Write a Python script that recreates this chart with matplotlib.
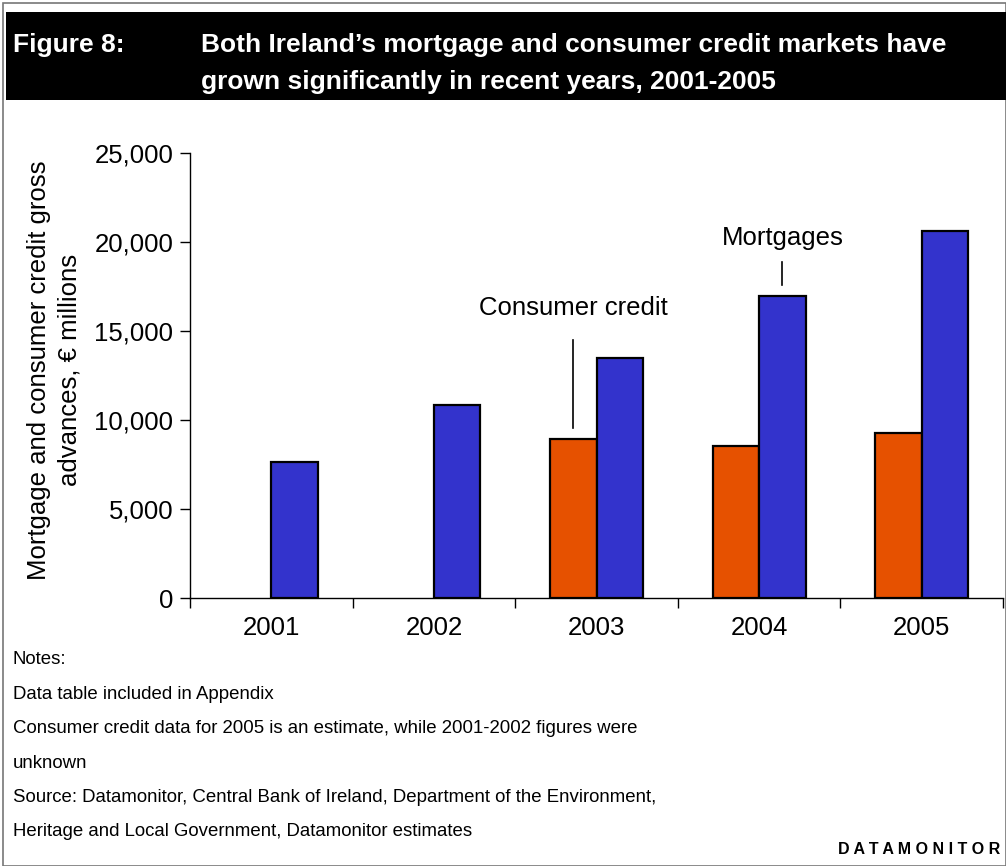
import matplotlib.pyplot as plt
import numpy as np
from matplotlib.ticker import FuncFormatter, FixedLocator

plt.rcParams['font.family'] = ['Liberation Sans', 'DejaVu Sans']

years = ["2001", "2002", "2003", "2004", "2005"]
consumer_credit = [np.nan, np.nan, 8950, 8530, 9280]
mortgages = [7650, 10850, 13500, 16950, 20600]

orange = "#E65100"
blue = "#3333CC"

fig = plt.figure(figsize=(10.06, 8.66), dpi=100)

# outer frame and black header band
fig.add_artist(plt.Rectangle((0.003, 0.0), 0.997, 0.996, transform=fig.transFigure,
                             fill=False, edgecolor="#777777", linewidth=1.2))
fig.add_artist(plt.Rectangle((0.006, 1 - 100 / 866), 0.994, 88 / 866,
                             transform=fig.transFigure, facecolor="black",
                             edgecolor="none"))
fig.text(13 / 1006, 1 - 45 / 866, "Figure 8:", color="white", fontsize=19,
         fontweight="bold", va="center", ha="left")
fig.text(201 / 1006, 1 - 45 / 866,
         "Both Ireland\u2019s mortgage and consumer credit markets have",
         color="white", fontsize=19, fontweight="bold", va="center", ha="left")
fig.text(201 / 1006, 1 - 82 / 866,
         "grown significantly in recent years, 2001-2005",
         color="white", fontsize=19, fontweight="bold", va="center", ha="left")

ax = fig.add_axes([190 / 1006, 1 - 598 / 866, 813 / 1006, 445 / 866])
x = np.arange(len(years))
w = 0.286
ax.bar(x - w / 2, consumer_credit, width=w, color=orange, edgecolor="black",
       linewidth=1.6)
ax.bar(x + w / 2, mortgages, width=w, color=blue, edgecolor="black",
       linewidth=1.6)

ax.set_xlim(-0.5, 4.5)
ax.set_ylim(0, 25000)
ax.set_yticks(np.arange(0, 25001, 5000))
ax.yaxis.set_major_formatter(FuncFormatter(lambda v, p: f"{v:,.0f}"))
ax.set_xticks(x)
ax.set_xticklabels(years)
ax.xaxis.set_minor_locator(FixedLocator(np.arange(-0.5, 4.6, 1.0)))
ax.tick_params(axis="x", which="major", length=0, labelsize=18.5, pad=13)
ax.tick_params(axis="x", which="minor", length=7, width=1, direction="out")
ax.tick_params(axis="y", length=7, width=1, direction="out", labelsize=18.5, pad=5)
for s in ["top", "right"]:
    ax.spines[s].set_visible(False)
for s in ["left", "bottom"]:
    ax.spines[s].set_linewidth(1.0)

fig.text(54 / 1006, 1 - 370 / 866,
         "Mortgage and consumer credit gross\nadvances, \u20ac millions",
         fontsize=18.5, rotation=90, ha="center", va="center",
         multialignment="center", linespacing=1.35)

# callouts
ax.plot([2 - w / 2, 2 - w / 2], [9550, 14500], color="black", linewidth=1.2)
ax.text(2 - w / 2, 16290, "Consumer credit", fontsize=18.5, ha="center", va="center")
ax.plot([3 + w / 2, 3 + w / 2], [17600, 18900], color="black", linewidth=1.2)
ax.text(3 + w / 2, 20200, "Mortgages", fontsize=18.5, ha="center", va="center")

notes = ["Notes:",
         "Data table included in Appendix",
         "Consumer credit data for 2005 is an estimate, while 2001-2002 figures were",
         "unknown",
         "Source: Datamonitor, Central Bank of Ireland, Department of the Environment,",
         "Heritage and Local Government, Datamonitor estimates"]
for i, line in enumerate(notes):
    fig.text(13 / 1006, 1 - (660 + i * 34.4) / 866, line, fontsize=13.4,
             va="center", ha="left")
fig.text(1000 / 1006, 1 - 850 / 866, "D A T A M O N I T O R", fontsize=11.5,
         fontweight="bold", va="center", ha="right")

fig.savefig("out.png", dpi=100)
